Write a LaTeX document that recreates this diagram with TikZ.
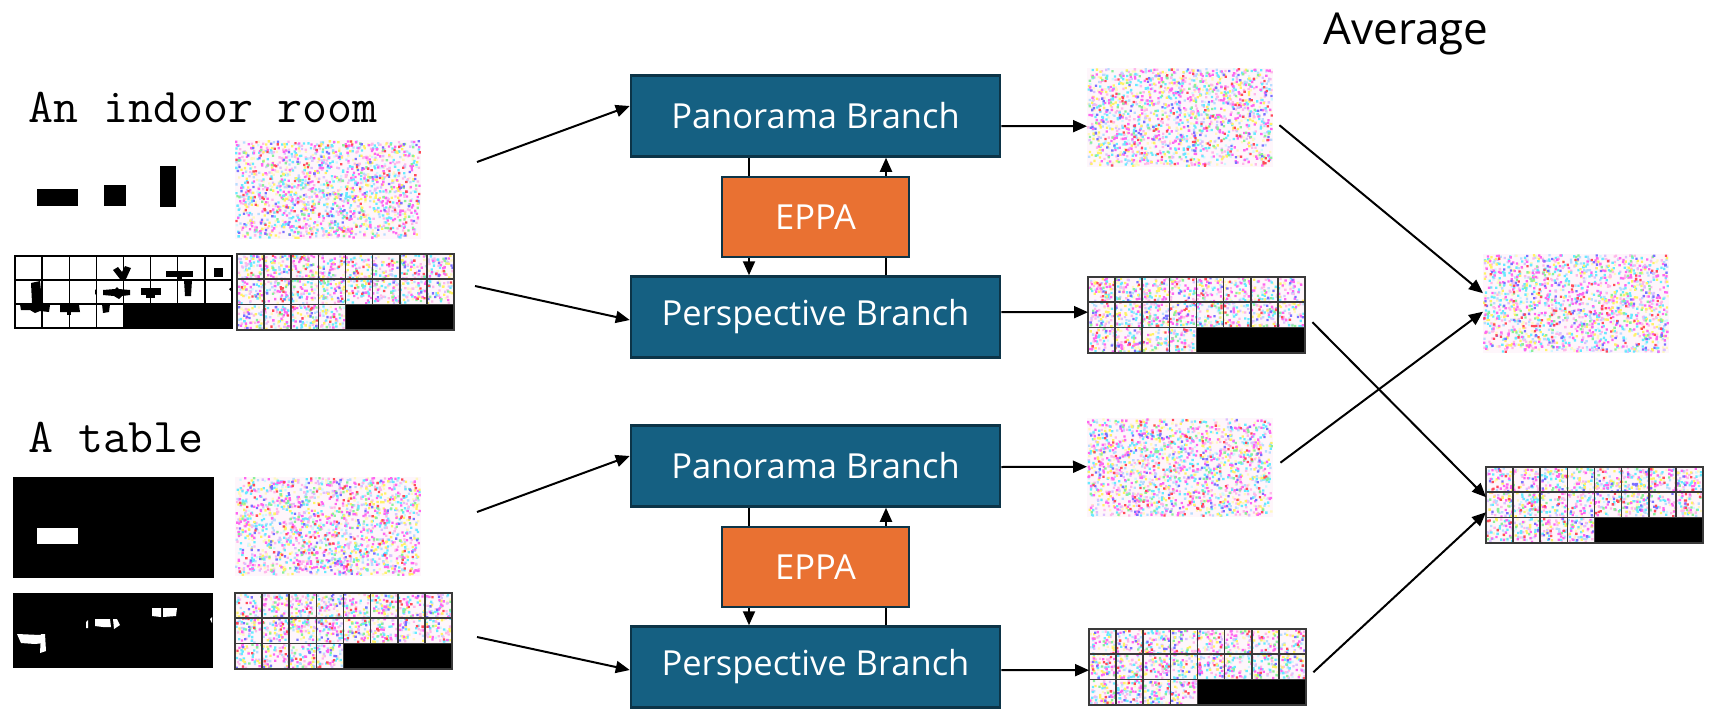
\documentclass[tikz,border=0pt]{standalone}
\usepackage{fontspec}
\setmainfont{Open Sans}
\usetikzlibrary{arrows.meta,calc}

\definecolor{branch}{HTML}{156082}
\definecolor{eppacol}{HTML}{E97132}
\definecolor{bdr}{HTML}{0C3447}
\definecolor{gridln}{HTML}{3A3A3A}
\definecolor{nm}{HTML}{FF66F0}
\definecolor{nc}{HTML}{66EAFF}
\definecolor{ny}{HTML}{FFF266}
\definecolor{npk}{HTML}{FFB8EA}
\definecolor{nlb}{HTML}{B8DCFF}
\definecolor{nlv}{HTML}{DCC0FF}
\definecolor{nb}{HTML}{7A70FF}
\definecolor{nr}{HTML}{FF4A5A}
\definecolor{ng}{HTML}{8AF09A}
\definecolor{nly}{HTML}{FFF8C0}
\definecolor{nlc}{HTML}{CFF8FF}
\definecolor{nbase}{HTML}{FEF6FB}

\pgfmathsetseed{12345}

% #1,#2 origin, #3,#4 size, #5 dots per weight unit (20 units in total)
\newcommand\noiserect[5]{%
  \fill[nbase] (#1,#2) rectangle ++(#3,#4);
  \foreach \col/\wt in {nlc/1,nly/2,nlb/2,npk/3,nlv/1,nc/3,ny/2,nm/3,ng/1,nb/1,nr/1}{%
    \pgfmathtruncatemacro\cnt{\wt*#5}%
    \fill[\col] \foreach \k in {1,...,\cnt}{({#1+rnd*(#3-2.3)},{#2+rnd*(#4-2.3)}) rectangle ++(2.3,2.3)};
  }}

\newcommand\noisepanel[1]{%
  \begin{scope}[shift={(#1.north west)}]
    \noiserect{0}{0}{186}{99}{85}
  \end{scope}}

\newcommand\noisegrid[1]{%
  \begin{scope}[shift={(#1.north west)}]
    \noiserect{0}{0}{217}{50.6}{51}
    \noiserect{0}{50.6}{108.5}{25.4}{13}
    \fill[black] (108.5,50.6) rectangle (217,76);
    \foreach \i in {1,...,4} \draw[gridln,line width=1.7pt] ({\i*27.125},0) -- ({\i*27.125},76);
    \foreach \i in {5,...,7} \draw[gridln,line width=1.7pt] ({\i*27.125},0) -- ({\i*27.125},50.6);
    \draw[gridln,line width=1.7pt] (0,25.3) -- (217,25.3) (0,50.6) -- (217,50.6);
    \draw[gridln,line width=1.9pt] (0,0) rectangle (217,76);
  \end{scope}}

\tikzset{
  panel/.style={rectangle,inner sep=0pt,minimum width=186pt,minimum height=99pt,anchor=north west},
  gridnode/.style={rectangle,inner sep=0pt,minimum width=217pt,minimum height=76pt,anchor=north west},
  branchbox/.style={draw=bdr,line width=2.5pt,fill=branch,text=white,
    font=\fontsize{34.5}{40}\selectfont,minimum width=369pt,minimum height=81pt,inner sep=0pt},
  eppabox/.style={draw=bdr,line width=2.5pt,fill=eppacol,text=white,
    font=\fontsize{34.5}{40}\selectfont,minimum width=187pt,minimum height=80pt,inner sep=0pt},
  arr/.style={line width=2pt,-{Triangle[length=14pt,width=12pt]}},
  ln/.style={line width=2pt},
  monolabel/.style={anchor=base west,inner sep=0pt,font=\ttfamily\fontsize{48.5}{54}\selectfont},
}

\begin{document}
\begin{tikzpicture}[x=1pt,y=-1pt]
\useasboundingbox (0,0) rectangle (1716,720);
\fill[white] (0,0) rectangle (1716,720);

% ---------- Left: upper sample ----------
\node[monolabel] (t1) at (28,122) {An indoor room};
\fill[black] (37,189) rectangle (78,206);
\fill[black] (104,185) rectangle (126,206);
\fill[black] (160,166) rectangle (176,207);

\node[panel] (n1) at (235,140) {};
\noisepanel{n1}

% layout grid
\node[gridnode,minimum height=72pt] (lay1) at (15,256) {};
\fill[white] (lay1.north west) rectangle (lay1.south east);
\fill[black] (113,270) -- (118,267) -- (122,272) -- (125,266) -- (131,268) -- (126,279) -- (120,279) -- cycle;
\fill[black] (166,271) rectangle (193,277);
\fill[black] (177,277) rectangle (182,281);
\fill[black] (214,268) rectangle (223,277);
\fill[black] (31,283) -- (40,281) -- (42,301) -- (44,304) -- (50,305) -- (49,312) -- (40,311) -- (35,313) -- (30,310) -- (21,310) -- (20,304) -- (32,303) -- cycle;
\fill[black] (103,290) -- (115,289) -- (117,287) -- (119,289) -- (130,290) -- (130,295) -- (122,296) -- (119,299) -- (114,296) -- (103,295) -- cycle;
\fill[black] (95,289) -- (97,292) -- (95,295) -- cycle;
\fill[black] (141,288) rectangle (161,295);
\fill[black] (146,295) rectangle (155,298);
\fill[black] (184,280) -- (192,280) -- (191,296) -- (185,296) -- cycle;
\fill[black] (60,305) -- (79,305) -- (80,312) -- (60,312) -- cycle;
\fill[black] (67,312) rectangle (71,315);
\fill[black] (102,304) -- (110,304) -- (109,312) -- (103,313) -- cycle;
\fill[black] (229,289) -- (232,287) -- (232,292) -- cycle;
\fill[black] (123,304) rectangle (232,328);
\begin{scope}[shift={(lay1.north west)}]
  \foreach \i in {1,...,7} \draw[black,line width=1.3pt] ({\i*27.125},0) -- ({\i*27.125},72);
  \draw[black,line width=1.3pt] (0,24) -- (217,24) (0,48) -- (217,48);
  \draw[black,line width=1.5pt] (0,0) rectangle (217,72);
\end{scope}

\node[gridnode] (g1) at (237,254) {};
\noisegrid{g1}

% ---------- Left: lower sample ----------
\node[monolabel] (t2) at (28,452) {A table};
\node[rectangle,fill=black,inner sep=0pt,minimum width=201pt,minimum height=101pt,anchor=north west] (m2) at (13,477) {};
\fill[white] (37,528) rectangle (78,544);

\node[panel] (n2) at (235,477) {};
\noisepanel{n2}

\node[rectangle,fill=black,inner sep=0pt,minimum width=200pt,minimum height=75pt,anchor=north west] (lay2) at (13,593) {};
\fill[white] (152,608) -- (161,608) -- (161,617) -- (152,616) -- cycle;
\fill[white] (163,608) -- (177,608) -- (176,616) -- (163,617) -- cycle;
\fill[white] (95,619) -- (110,619) -- (111,627) -- (103,627) -- (95,626) -- cycle;
\fill[white] (113,619) -- (117,619) -- (120,625) -- (114,629) -- cycle;
\fill[white] (86,622) -- (88,620) -- (88,628) -- (86,628) -- cycle;
\fill[white] (17,634) -- (40,635) -- (44,634) -- (44,643) -- (35,644) -- (21,643) -- cycle;
\fill[white] (41,634) -- (45,634) -- (46,651) -- (40,653) -- cycle;
\fill[white] (210,619) -- (212,617) -- (212,623) -- cycle;

\node[gridnode] (g2) at (235,593) {};
\noisegrid{g2}

% ---------- Middle: branches ----------
\node[branchbox] (p1) at (815.5,116) {Panorama Branch};
\node[eppabox]   (e1) at (815.5,217) {EPPA};
\node[branchbox] (s1) at (815.5,317) {Perspective Branch};

\node[branchbox] (p2) at (815.5,466) {Panorama Branch};
\node[eppabox]   (e2) at (815.5,567) {EPPA};
\node[branchbox] (s2) at (815.5,667) {Perspective Branch};

\foreach \a/\b/\c in {p1/e1/s1,p2/e2/s2}{
  \draw[ln]  ($(\a.south)+(-66.5,0)$) -- ($(\b.north)+(-66.5,0)$);
  \draw[arr] ($(\b.north)+(70.5,0)$) -- ($(\a.south)+(70.5,0)$);
  \draw[arr] ($(\b.south)+(-66.5,0)$) -- ($(\c.north)+(-66.5,0)$);
  \draw[ln]  ($(\c.north)+(70.5,0)$) -- ($(\b.south)+(70.5,0)$);
}

% input arrows
\coordinate (i1) at (477,162);
\coordinate (i2) at (475,286);
\coordinate (i3) at (477,512);
\coordinate (i4) at (477,637);
\draw[arr] (i1) -- ($(p1.west)+(0,-10)$);
\draw[arr] (i2) -- ($(s1.west)+(0,3)$);
\draw[arr] (i3) -- ($(p2.west)+(0,-10)$);
\draw[arr] (i4) -- ($(s2.west)+(0,3)$);

% ---------- Outputs ----------
\node[panel] (o1) at (1087,68) {};
\noisepanel{o1}
\node[gridnode] (og1) at (1088,277) {};
\noisegrid{og1}
\node[panel] (o2) at (1087,418) {};
\noisepanel{o2}
\node[gridnode] (og2) at (1089,629) {};
\noisegrid{og2}

\draw[arr] ($(p1.east)+(0,10)$) -- ($(o1.west)+(0,8.5)$);
\draw[arr] ($(s1.east)+(0,-5)$) -- ($(og1.west)+(0,-3)$);
\draw[arr] ($(p2.east)+(0,1)$) -- ($(o2.west)+(0,-1)$);
\draw[arr] ($(s2.east)+(0,3)$) -- ($(og2.west)+(0,3)$);

% ---------- Average ----------
\node[anchor=base,inner sep=0pt,font=\fontsize{44}{50}\selectfont] (avgt) at (1406,44) {Average};
\node[panel] (avg) at (1483,254) {};
\noisepanel{avg}
\node[gridnode] (fg) at (1486,467) {};
\noisegrid{fg}

\draw[arr] ($(o1.east)+(6,7.5)$) -- ($(avg.west)+(0,-10.5)$);
\draw[arr] ($(o2.east)+(7,-5)$) -- ($(avg.west)+(0,8)$);
\draw[arr] ($(og1.east)+(7,7)$) -- ($(fg.west)+(0,-8)$);
\draw[arr] ($(og2.east)+(7,5)$) -- ($(fg.west)+(0,7)$);
\end{tikzpicture}
\end{document}
